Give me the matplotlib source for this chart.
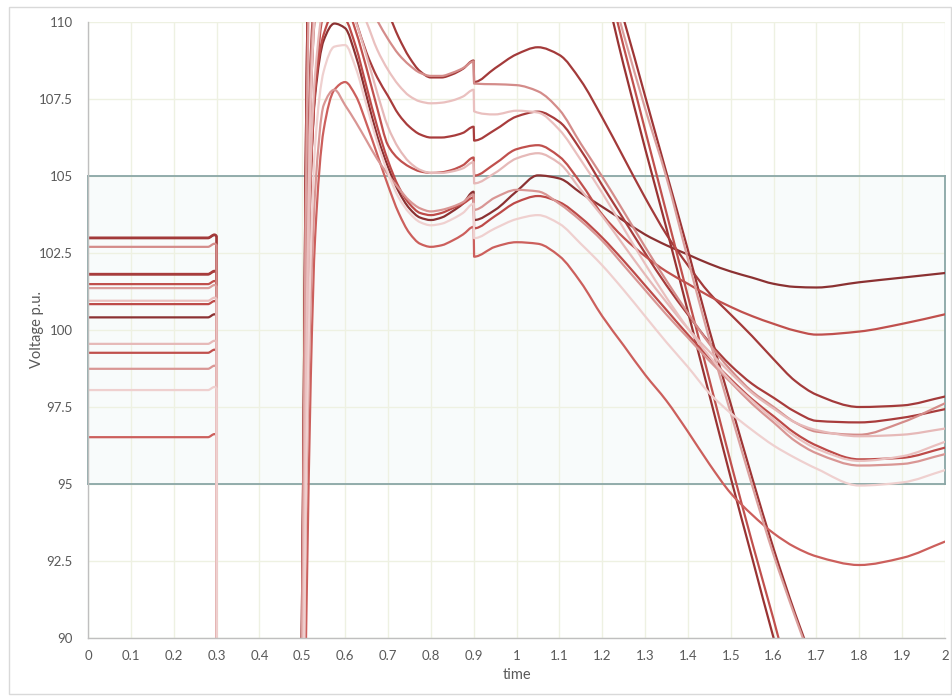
import matplotlib
matplotlib.use("Agg")
import numpy as np
import matplotlib.pyplot as plt
from matplotlib.patches import Rectangle, PathPatch
from matplotlib.path import Path

# ---------------- data ----------------
time = [0, 0.28, 0.295, 0.3, 0.301, 0.49, 0.5, 0.51, 0.52, 0.53, 0.55,
        0.575, 0.6, 0.625, 0.65, 0.675, 0.7, 0.725, 0.75, 0.775, 0.8,
        0.825, 0.85, 0.875, 0.9, 0.901, 0.95, 1.0, 1.05, 1.1, 1.15, 1.2,
        1.25, 1.3, 1.35, 1.4, 1.45, 1.5, 1.55, 1.6, 1.65, 1.7, 1.8, 1.9, 2.0]

v_A = [103.0, 103.0, 103.1, 103.05, 80, 80, 88, 102, 109, 111, 112.2, 112.6, 112.5, 112.1, 111.5, 110.9,
       110.3, 109.5, 108.85, 108.4, 108.2, 108.2, 108.3, 108.48, 108.75, 108.05, 108.5, 108.95, 109.18,
       108.93, 108.1, 106.9, 105.6, 104.3, 103.1, 102.1, 101.2, 100.5, 99.8, 99.05, 98.35, 97.9, 97.5,
       97.55, 97.84]
v_B = [102.7, 102.7, 102.8, 102.75, 80, 80, 88, 101, 108.5, 110.8, 111.8, 112.1, 112.0, 111.4, 110.7,
       110.05, 109.45, 108.95, 108.6, 108.35, 108.25, 108.25, 108.35, 108.5, 108.72, 108.0, 107.98,
       107.95, 107.75, 107.15, 106.05, 104.98, 103.85, 102.7, 101.6, 100.55, 99.55, 98.7, 98.0, 97.5,
       97.0, 96.7, 96.6, 97.0, 97.62]
v_C = [100.95, 100.95, 101.05, 101.0, 80, 80, 87, 100, 107.5, 110.3, 111.5, 111.8, 111.6, 110.8, 110.0,
       109.1, 108.45, 107.95, 107.6, 107.42, 107.36, 107.38, 107.45, 107.58, 107.8, 107.1, 107.0, 107.12,
       107.06, 106.5, 105.52, 104.45, 103.3, 102.15, 101.05, 100.05, 99.15, 98.35, 97.7, 97.1, 96.55,
       96.15, 95.75, 95.9, 96.37]
v_D = [101.82, 101.82, 101.92, 101.87, 80, 80, 87, 100, 107.5, 110.2, 111.2, 111.3, 111.1, 110.05, 109.0,
       108.2, 107.6, 107.0, 106.6, 106.35, 106.25, 106.25, 106.3, 106.4, 106.6, 106.15, 106.5, 106.93,
       107.09, 106.76, 105.84, 104.7, 103.6, 102.5, 101.45, 100.5, 99.6, 98.85, 98.25, 97.8, 97.35,
       97.05, 97.0, 97.15, 97.43]
v_E = [101.49, 101.49, 101.59, 101.54, 80, 80, 86, 98, 105, 107.8, 110.3, 110.8, 110.6, 109.7, 108.5,
       107.2, 106.0, 105.55, 105.3, 105.15, 105.1, 105.12, 105.2, 105.35, 105.6, 105.01, 105.4, 105.87,
       106.0, 105.63, 104.77, 103.75, 103.0, 102.4, 101.9, 101.5, 101.1, 100.75, 100.45, 100.2, 99.98,
       99.85, 99.95, 100.2, 100.51]
v_F = [99.55, 99.55, 99.65, 99.6, 80, 80, 86, 98, 105.5, 108.3, 110.5, 111.0, 110.8, 110.0, 108.9,
       107.7, 106.6, 105.9, 105.45, 105.2, 105.1, 105.1, 105.15, 105.25, 105.45, 104.76, 105.1, 105.57,
       105.74, 105.41, 104.55, 103.7, 102.75, 101.8, 100.9, 100.05, 99.3, 98.6, 97.95, 97.45, 97.0,
       96.75, 96.55, 96.6, 96.8]
v_G = [100.41, 100.41, 100.51, 100.46, 80, 80, 86, 98, 105, 107.6, 109.4, 109.95, 109.8, 108.9, 107.6,
       106.3, 105.3, 104.5, 103.95, 103.65, 103.57, 103.65, 103.85, 104.1, 104.49, 103.57, 103.9, 104.5,
       105.02, 104.92, 104.45, 104.0, 103.55, 103.1, 102.75, 102.45, 102.15, 101.9, 101.7, 101.5,
       101.4, 101.38, 101.55, 101.7, 101.85]
v_H = [98.74, 98.74, 98.84, 98.79, 80, 80, 85, 95, 101, 104.5, 107.3, 107.8, 107.3, 106.75, 106.15,
       105.55, 105.05, 104.6, 104.2, 103.95, 103.85, 103.9, 104.0, 104.15, 104.4, 103.9, 104.3, 104.55,
       104.5, 104.1, 103.55, 102.9, 102.1, 101.3, 100.5, 99.75, 99.0, 98.3, 97.6, 97.0, 96.4, 96.0,
       95.6, 95.65, 95.97]
v_I = [100.84, 100.84, 100.94, 100.89, 80, 80, 86, 98, 105, 107.8, 109.6, 110.3, 110.1, 109.2, 107.9,
       106.6, 105.5, 104.65, 104.1, 103.8, 103.73, 103.8, 103.95, 104.1, 104.3, 103.3, 103.7, 104.15,
       104.35, 104.15, 103.65, 103.0, 102.25, 101.45, 100.65, 99.85, 99.1, 98.4, 97.75, 97.2, 96.65,
       96.25, 95.8, 95.85, 96.18]
v_J = [98.05, 98.05, 98.15, 98.1, 80, 80, 85, 96, 102.5, 106, 108.4, 109.2, 109.25, 108.5, 107.3,
       106.1, 105.1, 104.3, 103.8, 103.5, 103.4, 103.45, 103.6, 103.8, 104.1, 102.98, 103.3, 103.6,
       103.73, 103.45, 102.8, 102.1, 101.3, 100.45, 99.6, 98.8, 97.95, 97.3, 96.75, 96.25, 95.85, 95.5,
       94.95, 95.05, 95.45]
v_K = [96.52, 96.52, 96.62, 96.57, 80, 80, 83, 91, 98.5, 103, 106.5, 107.8, 108.05, 107.6, 106.7,
       105.7, 104.7, 103.8, 103.15, 102.8, 102.7, 102.75, 102.9, 103.1, 103.35, 102.38, 102.7, 102.85,
       102.8, 102.4, 101.55, 100.45, 99.5, 98.55, 97.7, 96.7, 95.65, 94.7, 94.0, 93.4, 92.95, 92.65,
       92.37, 92.6, 93.13]
v_S1 = [102.98, 102.98, 103.08, 103.03, 80, 80, 92, 108, 116, 118, 119, 119, 119, 118.5, 118, 117.5,
        117, 116.5, 116, 115.5, 115, 114.8, 114.6, 114.4, 114.2, 114.0, 114.0, 114.0, 113.8, 113.4,
        112.7, 111.3, 108.6, 105.9, 103.3, 100.6, 97.9, 95.2, 92.6, 90.0, 87.6, 85.3, 81, 78, 75]
v_S2 = [99.26, 99.26, 99.36, 99.31, 80, 80, 91, 107, 115, 118, 119, 119, 119, 118.5, 118, 117.5,
        117, 116.5, 116, 115.5, 115, 114.8, 114.6, 114.4, 114.2, 114.0, 114.0, 114.0, 113.9, 113.6,
        113.0, 111.8, 109.2, 106.5, 103.8, 101.1, 98.4, 95.7, 93.1, 90.6, 88.0, 85.6, 81, 78, 75]
v_S3 = [101.36, 101.36, 101.46, 101.41, 80, 80, 91, 106, 114, 117, 118, 118, 118, 117.5, 117, 116.5,
        116, 115.6, 115.2, 114.9, 114.6, 114.4, 114.3, 114.2, 114.1, 114.0, 114.0, 114.0, 114.0, 113.8,
        113.4, 112.0, 109.6, 107.2, 104.95, 102.3, 99.7, 97.3, 94.95, 92.7, 90.7, 88.8, 85, 81, 78]
v_S4 = [101.80, 101.80, 101.90, 101.85, 80, 80, 92, 108, 116, 118, 119, 119, 119, 118.5, 118, 117.5,
        117, 116.5, 116, 115.6, 115.3, 115.1, 114.9, 114.8, 114.7, 114.6, 114.6, 114.6, 114.5, 114.3,
        114.0, 112.4, 110.1, 107.6, 105.1, 102.6, 100.0, 97.6, 95.2, 92.9, 90.8, 88.9, 85, 81, 78]

x_ticks = [round(0.1 * i, 1) for i in range(21)]
x_tick_labels = ["0", "0.1", "0.2", "0.3", "0.4", "0.5", "0.6", "0.7", "0.8", "0.9", "1",
                 "1.1", "1.2", "1.3", "1.4", "1.5", "1.6", "1.7", "1.8", "1.9", "2"]
y_ticks = [90, 92.5, 95, 97.5, 100, 102.5, 105, 107.5, 110]
y_tick_labels = ["90", "92.5", "95", "97.5", "100", "102.5", "105", "107.5", "110"]
band_low, band_high = 95, 105

# ---------------- styles (drawn dark first, light last) ----------------
series = [
    (v_G, "#8b3132"), (v_S1, "#993333"), (v_S4, "#9e3535"), (v_A, "#a33a3a"),
    (v_D, "#a83c3c"), (v_I, "#bd4a48"), (v_S2, "#c0504d"), (v_E, "#c0504d"),
    (v_K, "#cc5f5c"), (v_B, "#d48c8a"), (v_H, "#d99694"), (v_S3, "#dba09e"),
    (v_F, "#e6b9b8"), (v_C, "#eac0bf"), (v_J, "#efd0cf"),
]


def smooth_path(x, y):
    """Monotone cubic (PCHIP-style) Bezier path through the given points."""
    x = np.asarray(x, float)
    y = np.asarray(y, float)
    h = np.diff(x)
    d = np.diff(y) / h
    n = len(x)
    m = np.zeros(n)
    m[0], m[-1] = d[0], d[-1]
    for k in range(1, n - 1):
        if d[k - 1] * d[k] <= 0:
            m[k] = 0.0
        else:
            w1 = 2 * h[k] + h[k - 1]
            w2 = h[k] + 2 * h[k - 1]
            m[k] = (w1 + w2) / (w1 / d[k - 1] + w2 / d[k])
    verts = [(x[0], y[0])]
    codes = [Path.MOVETO]
    for i in range(n - 1):
        verts += [(x[i] + h[i] / 3, y[i] + m[i] * h[i] / 3),
                  (x[i + 1] - h[i] / 3, y[i + 1] - m[i + 1] * h[i] / 3),
                  (x[i + 1], y[i + 1])]
        codes += [Path.CURVE4] * 3
    return Path(verts, codes)


plt.rcParams["font.family"] = ["Lato", "DejaVu Sans"]

fig = plt.figure(figsize=(9.52, 6.96), dpi=100)
fig.patches.append(Rectangle((9 / 952, 1 - 694 / 696), 942 / 952, 687 / 696,
                             transform=fig.transFigure, fill=False,
                             edgecolor="#d9d9d9", linewidth=1.0))
ax = fig.add_axes([88 / 952, 1 - 638 / 696, (945 - 88) / 952, (638 - 22) / 696])

ax.set_xlim(0, 2)
ax.set_ylim(90, 110)

ax.add_patch(Rectangle((0, band_low), 2, band_high - band_low, facecolor="#f8fbfb",
                       edgecolor="none", zorder=0.3))
ax.set_axisbelow(True)
ax.grid(True, color="#eef1e2", linewidth=1.0)
for yb in (band_low, band_high):
    ax.plot([0, 2], [yb, yb], color="#8aa6a6", linewidth=1.3, zorder=1, clip_on=False)
for xb in (0, 2):
    ax.plot([xb, xb], [band_low, band_high], color="#8aa6a6", linewidth=1.3, zorder=1,
            clip_on=False)

for vals, col in series:
    ax.add_patch(PathPatch(smooth_path(time, vals), fill=False, edgecolor=col,
                           linewidth=1.6, joinstyle="round", capstyle="round", zorder=2))

ax.set_xticks(x_ticks)
ax.set_xticklabels(x_tick_labels)
ax.set_yticks(y_ticks)
ax.set_yticklabels(y_tick_labels)
ax.tick_params(axis="both", length=0, labelsize=9.5, labelcolor="#595959")
ax.tick_params(axis="y", pad=11)
ax.tick_params(axis="x", pad=9)

for s in ("top", "right"):
    ax.spines[s].set_visible(False)
for s in ("left", "bottom"):
    ax.spines[s].set_color("#bfbfbf")
    ax.spines[s].set_linewidth(1.0)

ax.set_ylabel("Voltage p.u.", fontsize=10.5, color="#595959")
ax.set_xlabel("time", fontsize=10.5, color="#595959")
ax.yaxis.set_label_coords((44 - 88) / 857, 0.5)
ax.xaxis.set_label_coords(0.5, -(668 - 638) / 616)

fig.savefig("out.png", dpi=100, facecolor="white")
